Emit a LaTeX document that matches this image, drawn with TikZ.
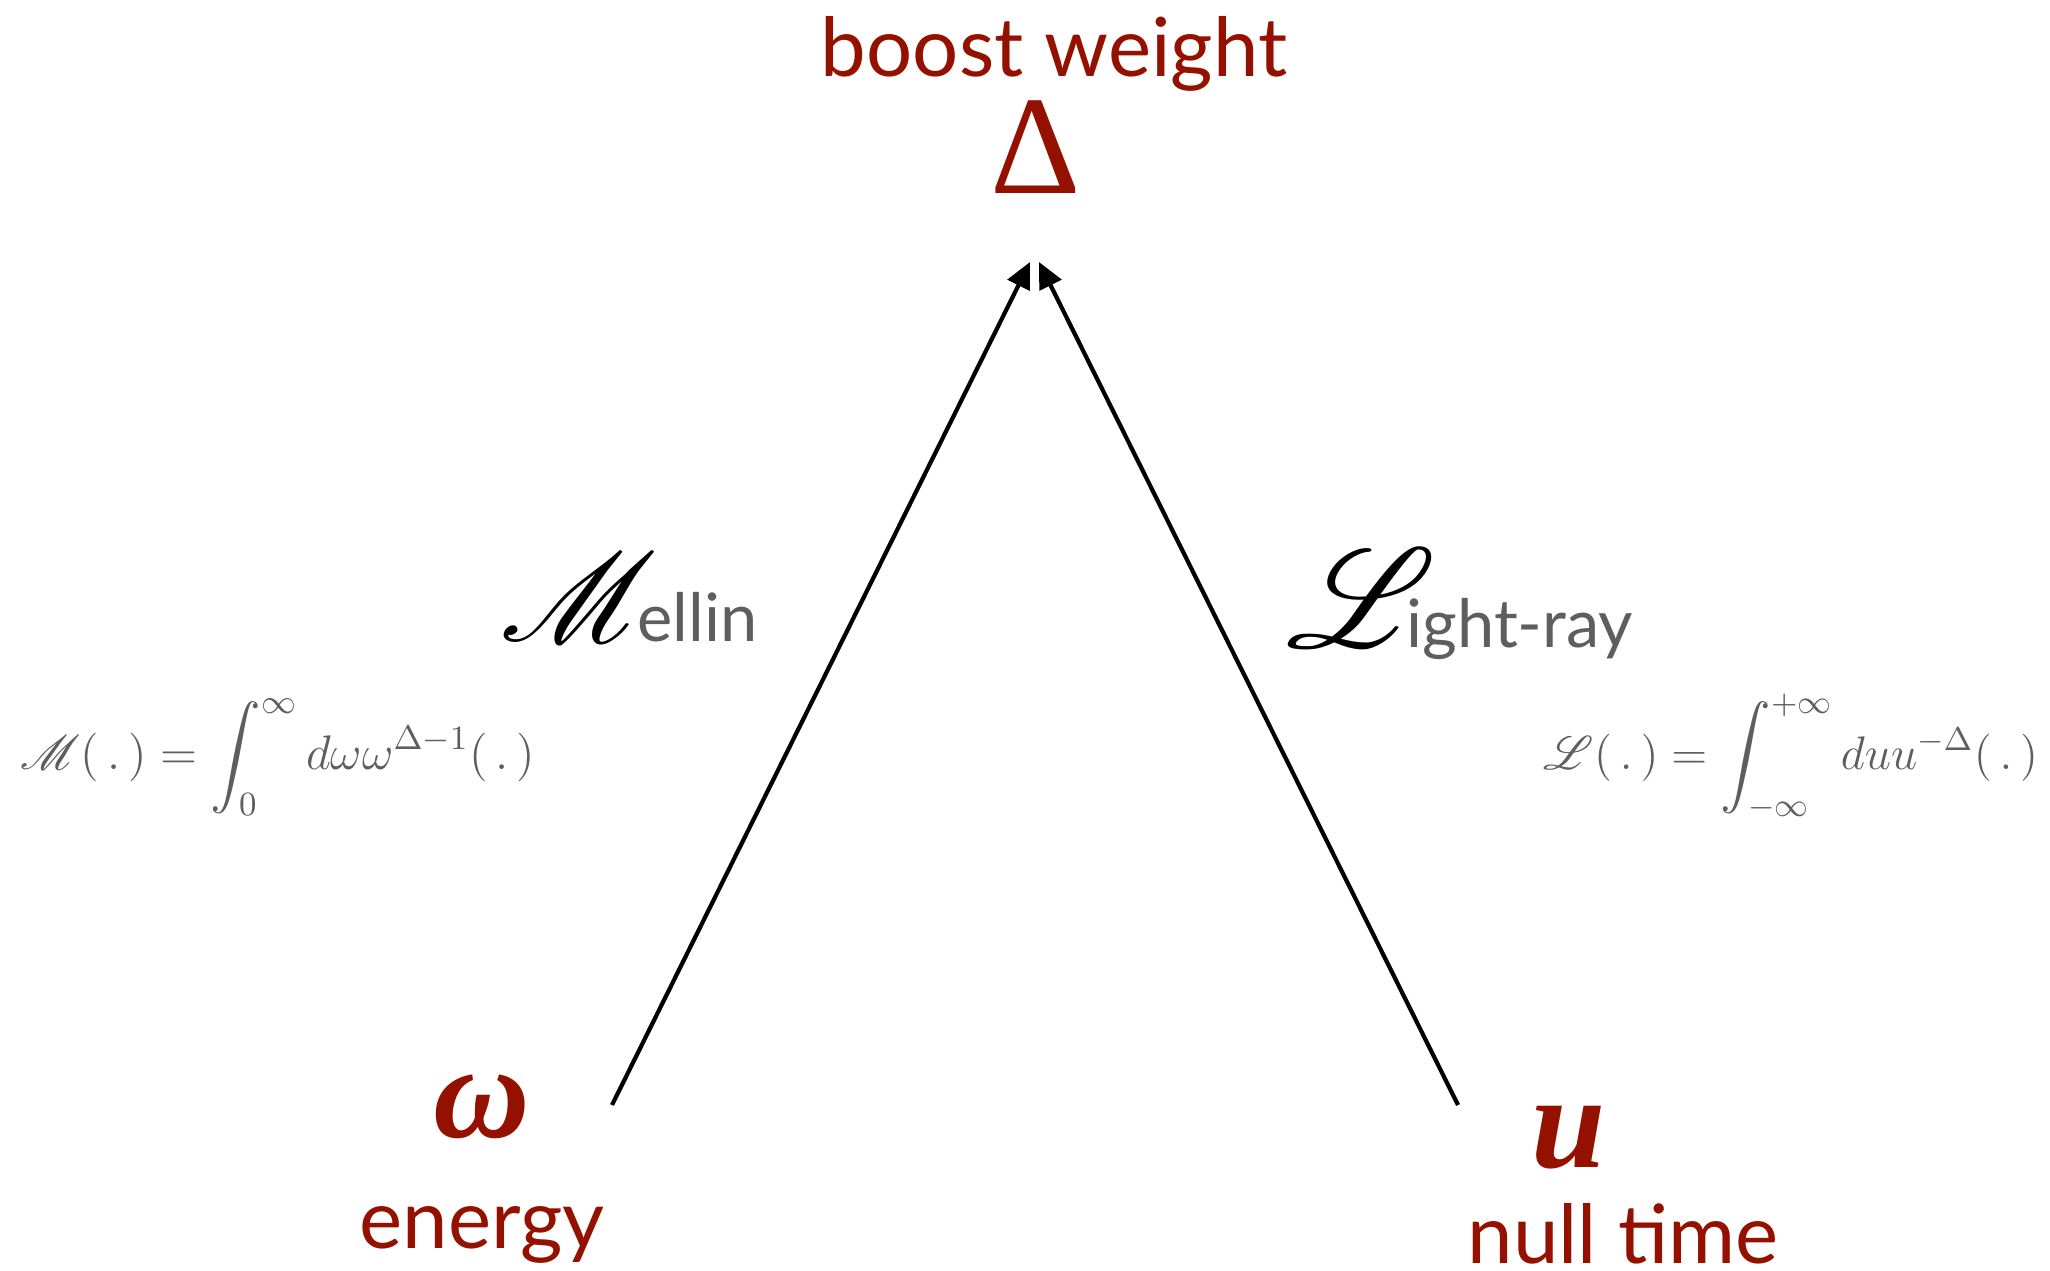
\documentclass[tikz,border=0pt]{standalone}
\usepackage{fix-cm}
\usepackage[no-math]{fontspec}
\usepackage{amsmath}
\DeclareFontFamily{U}{rsfs}{\skewchar\font127 }
\DeclareFontShape{U}{rsfs}{m}{n}{<-> rsfs10}{}
\usepackage{mathrsfs}
\setmainfont{Lato}
\newfontfamily\varfont{Liberation Serif}
\usetikzlibrary{arrows.meta}
\definecolor{cayenne}{RGB}{148,17,0}
\definecolor{slate}{RGB}{94,94,94}
\newcommand{\bigscr}[2]{\textcolor{black}{\fontsize{#1}{44}\selectfont$\mathscr{#2}$}}

\begin{document}
\begin{tikzpicture}[
  redword/.style={anchor=base,text=cayenne,font=\fontsize{23.2}{26}\selectfont},
  redvar/.style={anchor=base,text=cayenne,font=\fontsize{38}{40}\selectfont\varfont\bfseries\itshape},
  trans/.style={anchor=base,text=slate,font=\fontsize{19}{22}\selectfont},
  formula/.style={anchor=base,text=slate},
  map/.style={line width=1.2pt,-{Triangle[length=2.6mm,width=2.4mm]}}
]
\useasboundingbox (0,0) rectangle (20.5,12.7);
% target
\node[redword] (bw) at (10.54,11.93) {boost weight};
\node[anchor=base,text=cayenne,font=\fontsize{40}{42}\selectfont\varfont] (delta) at (10.36,10.76) {Δ};
% sources
\node[redvar] (omega) at (4.82,1.33) {ω};
\node[redword] (energy) at (4.82,0.22) {energy};
\node[redvar] (u) at (15.69,1.03) {u};
\node[redword] (nulltime) at (16.23,0.07) {null time};
% transforms
\node[trans] (mellin) at (6.29,6.28) {\bigscr{36}{M}\kern-0.3em ellin};
\node[trans] (lightray) at (14.60,6.22) {\bigscr{40}{L}\kern-0.45em ight-ray};
\node[formula,font=\fontsize{13.8}{16}\selectfont] (mdef) at (2.78,5.00) {$\displaystyle \mathscr{M}(\,.\,)=\int_0^\infty d\omega\omega^{\Delta-1}(\,.\,)$};
\node[formula,font=\fontsize{13.4}{16}\selectfont] (ldef) at (17.91,5.00) {$\displaystyle \mathscr{L}(\,.\,)=\int_{-\infty}^{+\infty} duu^{-\Delta}(\,.\,)$};
% arrows
\coordinate (wfoot) at (6.12,1.65);
\coordinate (ufoot) at (14.58,1.65);
\coordinate (tipw) at (10.30,10.08);
\coordinate (tipu) at (10.39,10.08);
\draw[map] (wfoot) -- (tipw);
\draw[map] (ufoot) -- (tipu);
\end{tikzpicture}
\end{document}
